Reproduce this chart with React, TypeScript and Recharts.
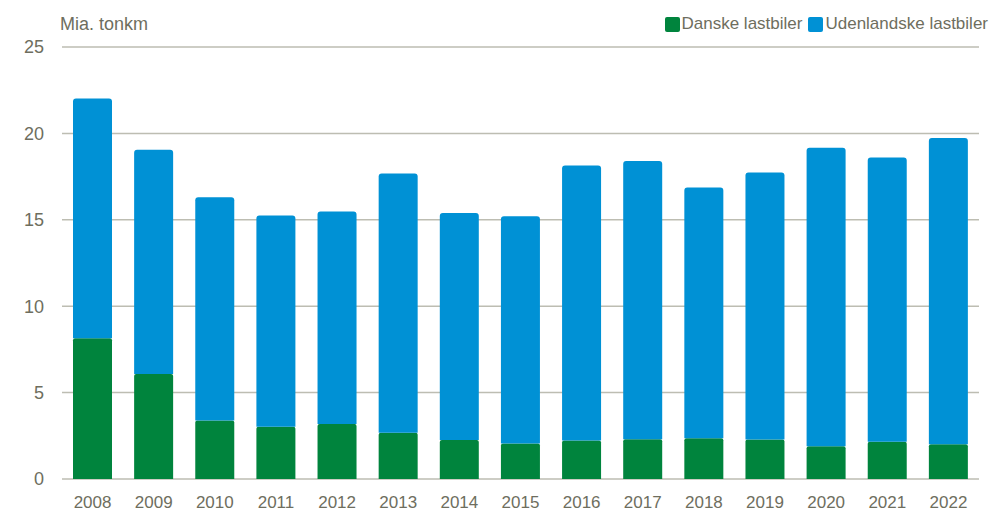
// Godstransport på danske veje - danske vs. udenlandske lastbiler
import { BarChart, Bar, XAxis, YAxis, CartesianGrid } from 'recharts'

const years = ['2008', '2009', '2010', '2011', '2012', '2013', '2014', '2015', '2016', '2017', '2018', '2019', '2020', '2021', '2022']
// Danske lastbiler (mia. tonkm)
const danske = [8.15, 6.08, 3.38, 3.02, 3.19, 2.67, 2.25, 2.05, 2.23, 2.3, 2.36, 2.28, 1.9, 2.15, 2.01]
// samlet højde af søjlen (mia. tonkm)
const totals = [22.02, 19.05, 16.31, 15.25, 15.48, 17.68, 15.4, 15.21, 18.14, 18.41, 16.87, 17.74, 19.17, 18.6, 19.73]
const yTicks = [0, 5, 10, 15, 20, 25]

const GREEN = '#00843d'
const BLUE = '#0091d5'
const TEXT = '#6e6e5e'
const FONT = '"Liberation Sans", Arial, sans-serif'
const FS = 17

const chartData = years.map((year, i) => ({
  year,
  danske: danske[i],
  udenlandske: +(totals[i] - danske[i]).toFixed(2),
}))

const legendItems = [
  { label: 'Danske lastbiler', color: GREEN },
  { label: 'Udenlandske lastbiler', color: BLUE },
]

// legend drawn outside recharts so it doesn't push the plot down
const TopLegend = () => (
  <div
    style={{
      position: 'absolute', right: 3, top: 13, display: 'flex',
      fontFamily: FONT, fontSize: FS, color: TEXT, lineHeight: '22px',
    }}
  >
    {legendItems.map((item) => (
      <span key={item.label} style={{ display: 'flex', alignItems: 'center', marginLeft: 6 }}>
        <span style={{ width: 15, height: 15, background: item.color, borderRadius: 2, marginRight: 2, display: 'inline-block' }} />
        {item.label}
      </span>
    ))}
  </div>
)

export default function App() {
  return (
    <div style={{ position: 'absolute', left: 0, top: 0, width: 991, height: 513, background: '#fff' }}>
      <div style={{ position: 'absolute', left: 60, top: 13, fontFamily: FONT, fontSize: FS + 1, color: TEXT, lineHeight: '22px' }}>
        Mia. tonkm
      </div>
      <TopLegend />
      <BarChart
        width={991}
        height={513}
        data={chartData}
        margin={{ top: 47, right: 12, left: 0, bottom: 0 }}
      >
        <CartesianGrid vertical={false} stroke="#bdbdb2" strokeWidth={1.5} />
        <XAxis
          dataKey="year"
          height={34}
          axisLine={false}
          tickLine={false}
          tickSize={0}
          tickMargin={17}
          tick={{ fill: TEXT, fontSize: FS, fontFamily: FONT }}
        />
        <YAxis
          width={62}
          domain={[0, 25]}
          ticks={yTicks}
          axisLine={false}
          tickLine={false}
          tickSize={0}
          tickMargin={18}
          tick={{ fill: TEXT, fontSize: FS + 1, fontFamily: FONT }}
        />
        <Bar
          dataKey="danske"
          name="Danske lastbiler"
          stackId="a"
          fill={GREEN}
          barSize={39}
          radius={[2, 2, 0, 0]}
          isAnimationActive={false}
        />
        <Bar
          dataKey="udenlandske"
          name="Udenlandske lastbiler"
          stackId="a"
          fill={BLUE}
          barSize={39}
          radius={[3, 3, 0, 0]}
          isAnimationActive={false}
        />
      </BarChart>
    </div>
  )
}
